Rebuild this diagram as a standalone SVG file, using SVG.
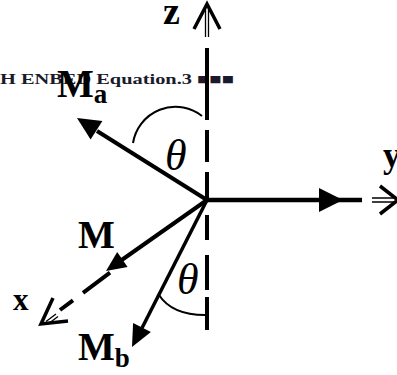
<svg xmlns="http://www.w3.org/2000/svg" width="397" height="375" viewBox="0 0 397 375">
<style>
.lbl{font-family:"Liberation Serif","Times New Roman",serif;font-weight:bold;fill:#000}
.th{font-family:"Liberation Serif","Times New Roman",serif;font-style:italic;fill:#000}
.thick{stroke:#000;stroke-width:4;fill:none}
.thin{stroke:#000;stroke-width:1.3;fill:none}
.chev{stroke:#000;stroke-width:3.5;fill:none;stroke-linejoin:miter}
.arc{stroke:#000;stroke-width:2;fill:none}
.head{fill:#000;stroke:none}
.field{font-family:"Liberation Serif","Times New Roman",serif;font-weight:bold;font-size:15px;fill:#1a1a2a}
</style>
<rect width="397" height="375" fill="#fff"/>
<g id="field-code">
<text class="field" x="0" y="84" textLength="234" lengthAdjust="spacingAndGlyphs">H ENBED Equation.3 ■■■</text>
</g>
<g id="connectors">
<g id="z-axis">
<path class="thick" d="M207,48V120M207,130V162M207,172V200M207,215V240M207,255V290M207,297V330"/>
<path class="thin" d="M205.5,5V37M208.5,5V37"/>
<polyline class="chev" points="194,29 207,4 220,29"/>
</g>
<g id="y-axis">
<line class="thick" x1="207" y1="200" x2="362" y2="200" style="stroke-width:4.5"/>
<polygon class="head" points="319,188 343,200 319,212"/>
<path class="thin" d="M372,198H396M372,202H396"/>
<polyline class="chev" points="380,186 398,200 380,214"/>
</g>
<g id="x-axis">
<path class="thick" d="M110,272.6L83,292.8M73,300.3L60,310"/>
<path class="thin" d="M56,314L46,321.5M58,316.5L48,324"/>
<polyline class="chev" points="53,298 41,324 68,321"/>
</g>
<g id="Ma-vector">
<line class="thick" x1="207" y1="200" x2="97" y2="131"/>
<polygon class="head" points="77,118 102.4,121 90.6,139.6"/>
</g>
<g id="M-vector">
<line class="thick" x1="207" y1="200" x2="121" y2="260.5"/>
<polygon class="head" points="106,271 117.2,252.1 127.6,266.9"/>
</g>
<g id="Mb-vector">
<line class="thick" x1="207" y1="200" x2="142" y2="328" style="stroke-width:3.5"/>
<polygon class="head" points="132,347 133.1,322.9 150.9,331.9"/>
</g>
<path id="arc-a" class="arc" d="M133,143A43,43 0 0,1 202,116"/>
<path id="arc-b" class="arc" d="M159,295Q172,315 205,315"/>
</g>
<g id="label-z"><text class="lbl" x="163" y="24" font-size="38">z</text></g>
<g id="label-y"><text class="lbl" x="383" y="167" font-size="35">y</text></g>
<g id="label-x"><text class="lbl" x="13" y="310" font-size="31">x</text></g>
<g id="label-Ma"><text class="lbl" x="57" y="97" font-size="39">M<tspan font-size="27" dy="6">a</tspan></text></g>
<g id="label-M"><text class="lbl" x="78" y="248" font-size="39">M</text></g>
<g id="label-Mb"><text class="lbl" x="78" y="360" font-size="39">M<tspan font-size="27" dy="7">b</tspan></text></g>
<g id="theta-a"><text class="th" x="165" y="170" font-size="44">θ</text></g>
<g id="theta-b"><text class="th" x="177" y="294" font-size="44">θ</text></g>
</svg>
